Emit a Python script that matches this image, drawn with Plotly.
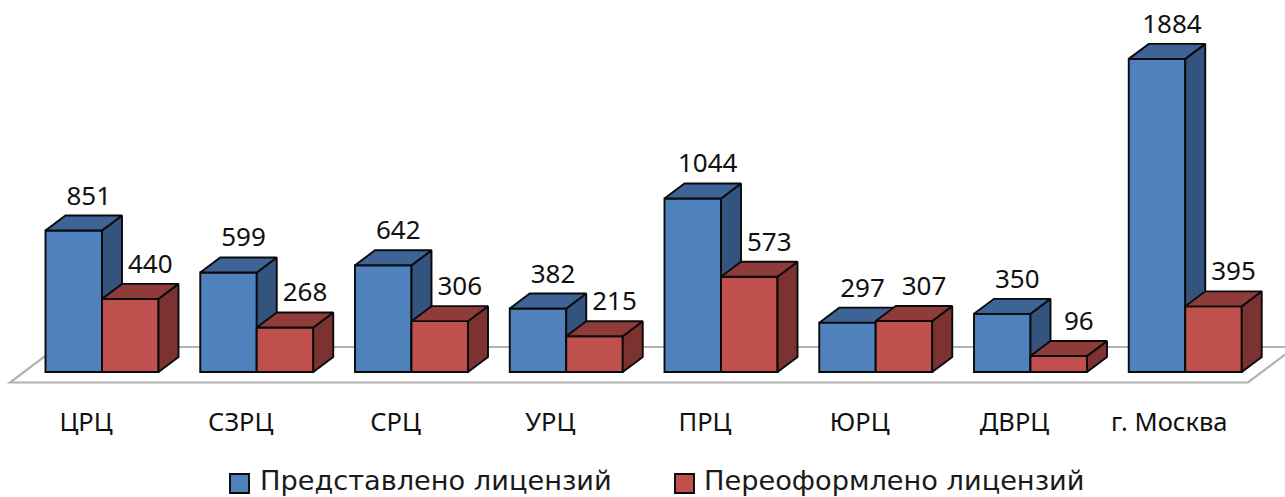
import plotly.graph_objects as go

categories = ["ЦРЦ", "СЗРЦ", "СРЦ", "УРЦ", "ПРЦ", "ЮРЦ", "ДВРЦ", "г. Москва"]
submitted = [851, 599, 642, 382, 1044, 297, 350, 1884]
reissued = [440, 268, 306, 215, 573, 307, 96, 395]
series_names = ["Представлено лицензий", "Переоформлено лицензий"]

W, H = 1285, 497
PX_X = 154.75         # pixels per category
PX_Y = 0.1662         # pixels per value unit
X_ORIGIN = 102.0      # pixel position of x = 0
Y_ORIGIN = 372.0      # pixel position of y = 0
XR = [-X_ORIGIN / PX_X, (W - X_ORIGIN) / PX_X]
YR = [(Y_ORIGIN - H) / PX_Y, Y_ORIGIN / PX_Y]
BW = 56.5 / PX_X
DX = 20 / PX_X
DY = 15 / PX_Y
xs = list(range(len(categories)))
LINE = dict(color="#0a0a0a", width=1.9)


def faces(values, left_off):
    side_x, side_y, top_x, top_y = [], [], [], []
    for i, v in zip(xs, values):
        l = i + left_off
        r = l + BW
        side_x += [r, r + DX, r + DX, r, r, None]
        side_y += [0, DY, v + DY, v, 0, None]
        top_x += [l, r, r + DX, l + DX, l, None]
        top_y += [v, v, v + DY, v + DY, v, None]
    return side_x, side_y, top_x, top_y


def add_series(fig, values, left_off, name, front, side, top, xa, ya):
    fig.add_trace(go.Bar(x=xs, y=values, width=BW, offset=left_off, name=name,
                         marker=dict(color=front, line=LINE), xaxis=xa, yaxis=ya,
                         showlegend=False, hoverinfo="y"))
    sx, sy, tx, ty = faces(values, left_off)
    for fx, fy, col in ((sx, sy, side), (tx, ty, top)):
        fig.add_trace(go.Scatter(x=fx, y=fy, mode="lines", fill="toself", fillcolor=col,
                                 line=LINE, xaxis=xa, yaxis=ya, showlegend=False,
                                 hoverinfo="skip"))


fig = go.Figure()
add_series(fig, submitted, -BW, series_names[0], "#4F81BD", "#345480", "#3E6496", "x", "y")
add_series(fig, reissued, 0, series_names[1], "#C0504D", "#7C3230", "#8F3B39", "x2", "y2")

LABEL_FONT = dict(family="Noto Sans", size=26, color="#111111")
fig.add_trace(go.Scatter(x=[i - BW / 2 + 15 / PX_X for i in xs],
                         y=[v + 32.5 / PX_Y for v in submitted],
                         text=[str(v) for v in submitted], mode="text",
                         textposition="middle center", textfont=LABEL_FONT,
                         xaxis="x2", yaxis="y2", showlegend=False, hoverinfo="skip"))
fig.add_trace(go.Scatter(x=[i + BW / 2 + 20 / PX_X for i in xs],
                         y=[v + 32.5 / PX_Y for v in reissued],
                         text=[str(v) for v in reissued], mode="text",
                         textposition="middle center", textfont=LABEL_FONT,
                         xaxis="x2", yaxis="y2", showlegend=False, hoverinfo="skip"))

# floor of the 3D box
fy0, fy1 = -10.5 / PX_Y, 25 / PX_Y
fxl, fxr, fshift = (10 - X_ORIGIN) / PX_X, (1248 - X_ORIGIN) / PX_X, 47 / PX_X
fig.add_shape(type="path", xref="x", yref="y", layer="below",
              path=f"M{fxl},{fy0} L{fxr},{fy0} L{fxr + fshift},{fy1} L{fxl + fshift},{fy1} Z",
              line=dict(color="#B2B2B2", width=2.2), fillcolor="white")

# legend
LEG_FONT = dict(family="DejaVu Sans", size=27.2, color="#1a1a1a")
for name, col, sx, tx in ((series_names[0], "#4F81BD", 230, 258),
                          (series_names[1], "#C0504D", 675, 702)):
    fig.add_shape(type="rect", xref="paper", yref="paper",
                  x0=sx / W, x1=(sx + 19) / W, y0=1 - 493 / H, y1=1 - 474 / H,
                  line=dict(color="#0a0a0a", width=1.9), fillcolor=col)
    fig.add_annotation(text=name, xref="paper", yref="paper", x=tx / W, y=1 - 480 / H,
                       xanchor="left", yanchor="middle", showarrow=False, font=LEG_FONT)

fig.update_layout(
    width=W, height=H, margin=dict(l=0, r=0, t=0, b=0),
    paper_bgcolor="white", plot_bgcolor="white", showlegend=False,
    xaxis=dict(range=XR, anchor="free", position=1 - Y_ORIGIN / H,
               tickmode="array", tickvals=[i - 16 / PX_X for i in xs], ticktext=categories,
               ticks="outside", ticklen=27, tickcolor="rgba(0,0,0,0)", showline=False,
               showgrid=False, zeroline=False,
               tickfont=dict(family="Noto Sans", size=25.5, color="#111111")),
    yaxis=dict(range=YR, visible=False, domain=[0, 1]),
    xaxis2=dict(range=XR, overlaying="x", visible=False, anchor="y2"),
    yaxis2=dict(range=YR, overlaying="y", visible=False, anchor="x2"),
)

fig.write_html("out.html", config={"displayModeBar": False},
               post_script="document.body.style.margin='0';document.body.style.overflow='hidden';")
